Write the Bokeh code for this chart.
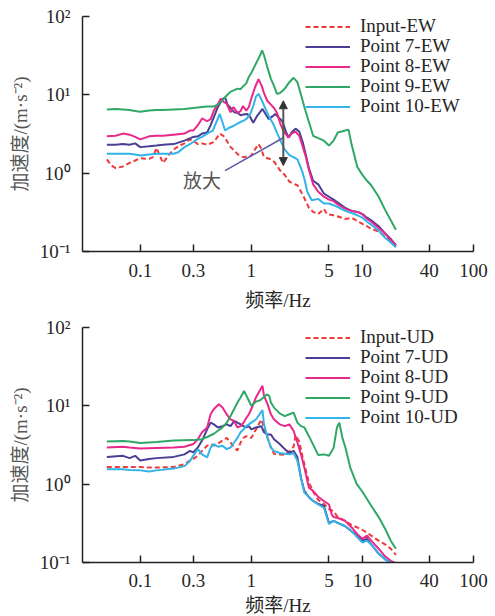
from bokeh.plotting import figure
from bokeh.layouts import column
from bokeh.models import (FixedTicker, NumeralTickFormatter, CustomJSTickFormatter,
                          Legend, LegendItem, Arrow, NormalHead, Label, Range1d)
from bokeh.embed import file_html
from bokeh.resources import INLINE

# ---------------- data: top panel (EW) ----------------
f_in_ew = [0.05, 0.055, 0.06, 0.07, 0.08, 0.09, 0.1, 0.12, 0.13, 0.14, 0.16, 0.18, 0.2, 0.22, 0.25, 0.28, 0.3,
           0.33, 0.36, 0.4, 0.46, 0.52, 0.56, 0.6, 0.65, 0.7, 0.75, 0.8, 0.85, 0.9, 0.95, 1.0, 1.1, 1.16, 1.22,
           1.3, 1.4, 1.5, 1.6, 1.7, 1.8, 2.0, 2.2, 2.4, 2.6, 2.8, 3.0, 3.3, 3.6, 4.0, 4.5, 4.8, 5.5, 6, 7, 8, 9,
           10, 11, 12, 14, 16, 18, 20]
v_in_ew = [1.5, 1.25, 1.16, 1.22, 1.35, 1.45, 1.55, 1.52, 1.6, 2.1, 1.35, 1.7, 2.0, 2.2, 2.4, 2.7, 2.6,
           2.35, 2.4, 2.3, 2.5, 3.2, 3.0, 2.6, 2.15, 1.95, 1.75, 1.65, 1.6, 1.62, 1.6, 1.68, 2.1, 2.35, 2.1,
           1.6, 1.55, 1.5, 1.4, 1.25, 1.1, 0.95, 0.78, 0.73, 0.7, 0.58, 0.48, 0.36, 0.32, 0.3, 0.35, 0.3, 0.29,
           0.28, 0.26, 0.27, 0.245, 0.225, 0.21, 0.195, 0.18, 0.155, 0.135, 0.117]

f_p7_ew = [0.05, 0.06, 0.07, 0.08, 0.09, 0.1, 0.12, 0.14, 0.16, 0.2, 0.25, 0.3, 0.33, 0.36, 0.4, 0.43, 0.46,
           0.5, 0.55, 0.58, 0.61, 0.65, 0.7, 0.75, 0.8, 0.85, 0.92, 0.97, 1.04, 1.12, 1.26, 1.35, 1.43, 1.55,
           1.64, 1.75, 1.9, 2.05, 2.16, 2.3, 2.5, 2.7, 2.9, 3.1, 3.3, 3.6, 4.0, 4.5, 5, 5.5, 6, 7, 8, 9, 10,
           11, 12, 14, 16, 18, 20]
v_p7_ew = [2.3, 2.3, 2.35, 2.3, 2.4, 2.15, 2.2, 2.25, 2.3, 2.35, 2.6, 2.9, 2.95, 3.2, 3.3, 4.1, 5.2,
           7.0, 8.8, 9.3, 7.5, 6.8, 6.0, 5.9, 5.5, 5.6, 5.7, 5.3, 4.4, 5.3, 6.6, 5.6, 4.9, 5.3,
           5.7, 5.2, 4.6, 3.4, 2.85, 3.3, 3.7, 3.4, 2.5, 1.7, 1.15, 0.8, 0.72, 0.55, 0.5, 0.46, 0.42, 0.36,
           0.33, 0.32, 0.3, 0.27, 0.25, 0.21, 0.17, 0.145, 0.12]

f_p8_ew = [0.05, 0.06, 0.07, 0.08, 0.09, 0.1, 0.12, 0.14, 0.16, 0.2, 0.25, 0.28, 0.3, 0.33, 0.36, 0.4, 0.43,
           0.46, 0.5, 0.53, 0.56, 0.6, 0.65, 0.69, 0.75, 0.8, 0.84, 0.9, 0.95, 1.0, 1.08, 1.16, 1.24, 1.3,
           1.39, 1.5, 1.6, 1.71, 1.82, 1.94, 2.16, 2.3, 2.5, 2.7, 2.9, 3.1, 3.3, 3.6, 4.0, 4.5, 5, 5.5, 6, 7,
           8, 9, 10, 11, 12, 14, 16, 18, 20]
v_p8_ew = [2.97, 3.0, 3.2, 3.1, 2.9, 2.7, 2.95, 3.0, 3.0, 3.1, 3.2, 3.5, 3.5, 4.1, 5.0, 4.6, 4.9,
           6.3, 7.6, 8.9, 8.2, 7.7, 6.0, 7.0, 5.9, 6.2, 7.2, 6.3, 7.0, 9.0, 12.5, 15.9, 13.0, 10.5,
           8.4, 7.5, 6.8, 5.8, 4.3, 3.5, 2.85, 3.2, 3.4, 3.0, 2.2, 1.6, 1.1, 0.72, 0.58, 0.5, 0.46, 0.44, 0.4,
           0.35, 0.33, 0.32, 0.3, 0.26, 0.24, 0.2, 0.17, 0.14, 0.122]

f_p9_ew = [0.05, 0.06, 0.07, 0.08, 0.09, 0.1, 0.12, 0.14, 0.16, 0.2, 0.25, 0.3, 0.36, 0.4, 0.46, 0.5, 0.55,
           0.6, 0.65, 0.7, 0.75, 0.8, 0.85, 0.9, 0.95, 1.0, 1.1, 1.2, 1.25, 1.3, 1.4, 1.5, 1.6, 1.7, 1.8, 2.0,
           2.2, 2.4, 2.6, 2.8, 3.0, 3.3, 3.6, 4.0, 4.5, 5, 5.5, 6, 6.5, 7, 7.5, 8, 9, 10, 11, 12, 14, 16, 18, 20]
v_p9_ew = [6.5, 6.6, 6.5, 6.4, 6.2, 6.1, 6.3, 6.4, 6.4, 6.5, 6.6, 6.8, 7.0, 7.1, 7.1, 7.5, 8.5,
           9.8, 11, 11.5, 12, 11.8, 13, 14, 17, 19, 25, 32, 37, 32, 22, 16, 13, 10.3, 10.5, 12,
           14.5, 16.5, 14.5, 10, 7.0, 4.5, 3.0, 2.8, 2.6, 2.25, 2.6, 3.3, 3.4, 3.5, 3.6, 2.3, 1.2, 0.95, 0.8,
           0.7, 0.5, 0.34, 0.25, 0.19]

f_p10_ew = [0.05, 0.06, 0.07, 0.08, 0.09, 0.1, 0.12, 0.14, 0.16, 0.2, 0.22, 0.25, 0.28, 0.3, 0.33, 0.36,
            0.4, 0.45, 0.52, 0.58, 0.63, 0.69, 0.75, 0.8, 0.85, 0.9, 0.98, 1.05, 1.1, 1.16, 1.22, 1.33, 1.45,
            1.58, 1.7, 1.83, 2.0, 2.2, 2.4, 2.6, 2.86, 3.0, 3.2, 3.5, 4.0, 4.5, 5, 5.5, 6, 7, 8, 9, 10, 11,
            12, 14, 16, 18, 20]
v_p10_ew = [1.77, 1.77, 1.77, 1.77, 1.73, 1.68, 1.73, 1.77, 1.77, 1.77, 1.85, 2.15, 2.35, 2.5, 2.75, 2.9,
            3.2, 3.5, 5.7, 3.5, 3.8, 4.0, 4.3, 4.5, 4.7, 4.9, 5.7, 7.5, 9.5, 10.3, 9.0, 6.8, 5.2,
            4.2, 3.3, 2.6, 2.0, 1.7, 1.6, 1.5, 1.07, 0.85, 0.57, 0.45, 0.47, 0.41, 0.41, 0.39, 0.37, 0.33,
            0.31, 0.29, 0.27, 0.24, 0.22, 0.185, 0.15, 0.13, 0.113]

# ---------------- data: bottom panel (UD) ----------------
f_in_ud = [0.05, 0.07, 0.1, 0.12, 0.14, 0.2, 0.25, 0.28, 0.3, 0.33, 0.36, 0.4, 0.43, 0.46, 0.5, 0.55, 0.6,
           0.65, 0.7, 0.75, 0.8, 0.85, 0.9, 0.95, 1.0, 1.1, 1.23, 1.3, 1.4, 1.5, 1.6, 1.8, 2.0, 2.2, 2.4, 2.5,
           2.7, 2.9, 3.1, 3.3, 3.6, 4.0, 4.5, 5, 5.5, 6, 7, 8, 9, 10, 11, 12, 14, 16, 18, 20]
v_in_ud = [1.66, 1.66, 1.66, 1.63, 1.63, 1.66, 1.8, 2.0, 2.1, 2.3, 2.66, 3.1, 3.25, 3.1, 3.3, 3.6, 3.9,
           3.4, 2.94, 2.7, 3.4, 3.9, 4.1, 3.9, 3.9, 5.0, 6.7, 5.3, 3.9, 2.94, 2.45, 2.4, 2.37, 2.6, 3.0, 4.2,
           3.5, 2.2, 1.5, 1.05, 0.8, 0.63, 0.56, 0.48, 0.45, 0.38, 0.34, 0.3, 0.28, 0.26, 0.24, 0.22, 0.19,
           0.17, 0.15, 0.125]

f_p7_ud = [0.05, 0.07, 0.08, 0.09, 0.1, 0.12, 0.14, 0.2, 0.25, 0.28, 0.3, 0.33, 0.36, 0.4, 0.43, 0.46, 0.5,
           0.55, 0.6, 0.65, 0.7, 0.75, 0.8, 0.85, 0.9, 0.95, 1.0, 1.1, 1.23, 1.3, 1.4, 1.5, 1.6, 1.8, 2.0,
           2.2, 2.4, 2.6, 2.8, 3.0, 3.3, 3.6, 4.0, 4.5, 5, 5.5, 6, 7, 8, 9, 10, 11, 12, 14, 16, 18, 20]
v_p7_ud = [2.23, 2.3, 2.15, 2.3, 2.0, 2.1, 2.15, 2.23, 2.4, 2.66, 2.55, 2.94, 3.6, 5.0, 6.1, 5.8, 5.3,
           5.5, 5.8, 5.5, 6.4, 6.1, 5.8, 5.5, 5.3, 5.5, 5.0, 5.3, 5.5, 4.6, 4.3, 4.3, 3.75, 3.25, 2.8,
           2.5, 2.66, 2.2, 1.2, 0.82, 0.68, 0.61, 0.56, 0.53, 0.32, 0.34, 0.32, 0.29, 0.25, 0.22, 0.19, 0.2,
           0.17, 0.13, 0.11, 0.1, 0.095]

f_p8_ud = [0.05, 0.07, 0.08, 0.1, 0.14, 0.2, 0.25, 0.3, 0.33, 0.36, 0.4, 0.43, 0.46, 0.51, 0.55, 0.6, 0.65,
           0.7, 0.75, 0.8, 0.85, 0.9, 0.95, 1.0, 1.1, 1.26, 1.3, 1.4, 1.5, 1.6, 1.8, 2.0, 2.2, 2.4, 2.6, 2.8,
           3.0, 3.3, 3.6, 4.0, 4.5, 5, 5.3, 5.5, 6, 7, 8, 9, 10, 11, 12, 14, 16, 18, 20]
v_p8_ud = [2.94, 3.0, 2.94, 2.85, 2.9, 2.94, 3.0, 3.25, 3.75, 4.6, 5.3, 7.8, 9.1, 10.5, 9.5, 7.8, 6.7,
           6.4, 5.3, 5.5, 6.1, 7.0, 7.8, 9.1, 12.8, 18.0, 13.4, 10.5, 7.8, 6.7, 5.8, 5.5, 5.8, 4.8, 3.4, 2.4,
           1.63, 0.9, 0.82, 0.69, 0.61, 0.55, 0.41, 0.38, 0.37, 0.34, 0.28, 0.23, 0.2, 0.22, 0.19, 0.15,
           0.12, 0.105, 0.098]

f_p9_ud = [0.05, 0.07, 0.08, 0.1, 0.14, 0.2, 0.3, 0.36, 0.4, 0.46, 0.5, 0.55, 0.6, 0.65, 0.7, 0.75, 0.8,
           0.86, 0.95, 1.0, 1.1, 1.2, 1.3, 1.38, 1.45, 1.5, 1.6, 1.8, 2.0, 2.2, 2.4, 2.6, 2.8, 3.0, 3.3, 3.6,
           4.0, 4.5, 5.0, 5.5, 5.9, 6.2, 6.6, 7, 7.8, 8.9, 10, 11.8, 14, 16, 18, 20]
v_p9_ud = [3.5, 3.55, 3.5, 3.35, 3.45, 3.6, 3.65, 3.75, 4.0, 4.4, 4.8, 5.3, 6.1, 7.4, 9.1, 11, 12.8,
           15.5, 11.6, 10, 11.3, 11.8, 13.0, 14.0, 13.4, 11, 9.5, 8.0, 7.4, 7.8, 8.2, 6.1, 5.5, 5.3, 4.1, 3.2,
           2.35, 2.4, 2.3, 2.9, 5.3, 6.1, 3.9, 3.0, 1.6, 1.0, 0.8, 0.55, 0.38, 0.27, 0.19, 0.15]

f_p10_ud = [0.05, 0.07, 0.08, 0.1, 0.12, 0.14, 0.2, 0.25, 0.28, 0.3, 0.33, 0.36, 0.4, 0.43, 0.46, 0.5, 0.55,
            0.6, 0.65, 0.7, 0.75, 0.8, 0.85, 0.9, 0.95, 1.0, 1.1, 1.26, 1.3, 1.4, 1.5, 1.6, 1.8, 2.0, 2.2,
            2.4, 2.6, 2.8, 3.0, 3.3, 3.6, 4.0, 4.5, 5, 5.5, 6, 7, 8, 9, 10, 11, 12, 14, 16, 18, 20]
v_p10_ud = [1.55, 1.55, 1.52, 1.5, 1.45, 1.5, 1.58, 1.7, 1.98, 2.3, 2.8, 2.4, 2.2, 2.94, 3.25, 3.0, 3.1,
            2.8, 2.94, 3.4, 3.9, 4.6, 5.0, 5.5, 5.8, 6.1, 6.7, 8.8, 5.8, 3.9, 2.94, 2.66, 2.5, 2.45, 2.4,
            2.5, 1.98, 1.2, 0.78, 0.69, 0.61, 0.55, 0.5, 0.31, 0.34, 0.32, 0.29, 0.25, 0.21, 0.18, 0.19,
            0.17, 0.13, 0.11, 0.1, 0.094]

# ---------------- labels, ticks, annotation ----------------
labels_ew = ["Input-EW", "Point 7-EW", "Point 8-EW", "Point 9-EW", "Point 10-EW"]
labels_ud = ["Input-UD", "Point 7-UD", "Point 8-UD", "Point 9-UD", "Point 10-UD"]
x_ticks = [0.1, 0.3, 1, 5, 10, 40, 100]
y_ticks = [0.1, 1, 10, 100]
x_label = "频率/Hz"
y_label = "加速度/(m·s⁻²)"

arrow_f = 1.94
arrow_lo = 1.25
arrow_hi = 8.4
pointer_f = [0.58, 1.94]
pointer_v = [1.08, 2.83]
note_text = "放大"
note_f = 0.36
note_v = 0.78

COLORS = ["#ee3b3b", "#4a3f94", "#e8288a", "#2fa866", "#33b3e8"]
DASHES = ["5 3", "solid", "solid", "solid", "solid"]
SERIF = "'Liberation Serif', 'Noto Sans CJK SC'"
TXT = "#262626"
# legend rows: screen offset (px) of each row's bottom edge above the frame bottom
LEG_X = 223
LEG_ROW_BOTTOM = [214, 194, 174, 154, 134]

y_fmt = CustomJSTickFormatter(code="""
const e = Math.round(Math.log10(tick));
const sup = {'-1': '\u207b\u00b9', '0': '\u2070', '1': '\u00b9', '2': '\u00b2'};
return '10' + sup[String(e)];
""")


def make_panel(series, labels, top_border, bottom_border, lab_std, axlab_std):
    p = figure(x_axis_type="log", y_axis_type="log",
               x_range=Range1d(0.0302, 100), y_range=Range1d(0.1, 100),
               frame_width=391, frame_height=235,
               min_border_left=82, min_border_right=22,
               min_border_top=top_border, min_border_bottom=bottom_border,
               output_backend="svg", toolbar_location=None)
    p.outline_line_color = None
    p.xgrid.visible = False
    p.ygrid.visible = False
    p.background_fill_color = "white"
    p.border_fill_color = "white"

    for (f, v), lab, col, dash, yb in zip(series, labels, COLORS, DASHES, LEG_ROW_BOTTOM):
        r = p.line(f, v, line_color=col, line_width=2, line_dash=dash)
        leg = Legend(items=[LegendItem(label=lab, renderers=[r])], location=(LEG_X, yb),
                     padding=0, spacing=0, margin=0,
                     glyph_width=45, glyph_height=17, label_height=17, label_standoff=10,
                     label_text_font=SERIF, label_text_font_size="19px", label_text_color=TXT,
                     background_fill_alpha=0, border_line_color=None)
        p.add_layout(leg)

    for ax in (p.xaxis[0], p.yaxis[0]):
        ax.axis_line_color = "#222222"
        ax.axis_line_width = 1.5
        ax.major_tick_line_color = "#222222"
        ax.major_tick_line_width = 1.5
        ax.major_tick_in = 7
        ax.major_tick_out = 0
        ax.minor_tick_line_color = None
        ax.major_label_text_font = SERIF
        ax.major_label_text_font_size = "19px"
        ax.major_label_text_color = TXT
        ax.axis_label_text_font = SERIF
        ax.axis_label_text_font_size = "19px"
        ax.axis_label_text_font_style = "normal"

    p.xaxis.ticker = FixedTicker(ticks=x_ticks, minor_ticks=[])
    p.xaxis.formatter = NumeralTickFormatter(format="0.[0]")
    p.xaxis.major_label_standoff = lab_std
    p.xaxis.axis_label = x_label
    p.xaxis.axis_label_standoff = axlab_std
    p.xaxis.axis_label_text_color = TXT

    p.yaxis.ticker = FixedTicker(ticks=y_ticks, minor_ticks=[])
    p.yaxis.formatter = y_fmt
    p.yaxis.major_label_standoff = 12
    p.yaxis.axis_label = y_label
    p.yaxis.axis_label_standoff = 6
    p.yaxis.axis_label_text_color = "#555555"
    return p


p1 = make_panel([(f_in_ew, v_in_ew), (f_p7_ew, v_p7_ew), (f_p8_ew, v_p8_ew),
                 (f_p9_ew, v_p9_ew), (f_p10_ew, v_p10_ew)], labels_ew, 16, 58, 12, 10)

head = dict(size=8, fill_color="#333333", line_color="#333333")
p1.add_layout(Arrow(start=NormalHead(**head), end=NormalHead(**head),
                    x_start=arrow_f, y_start=arrow_lo, x_end=arrow_f, y_end=arrow_hi,
                    line_color="#555555", line_width=2))
p1.line(pointer_f, pointer_v, line_color="#5a5aa8", line_width=1.5)
p1.add_layout(Label(x=note_f, y=note_v, text=note_text, text_font=SERIF, text_font_size="19px",
                    text_color="#555555", text_align="center", text_baseline="middle"))

p2 = make_panel([(f_in_ud, v_in_ud), (f_p7_ud, v_p7_ud), (f_p8_ud, v_p8_ud),
                 (f_p9_ud, v_p9_ud), (f_p10_ud, v_p10_ud)], labels_ud, 14, 57, 11, 5)

layout = column(p1, p2, spacing=0)
open("out.html", "w", encoding="utf-8").write(file_html(layout, INLINE))
